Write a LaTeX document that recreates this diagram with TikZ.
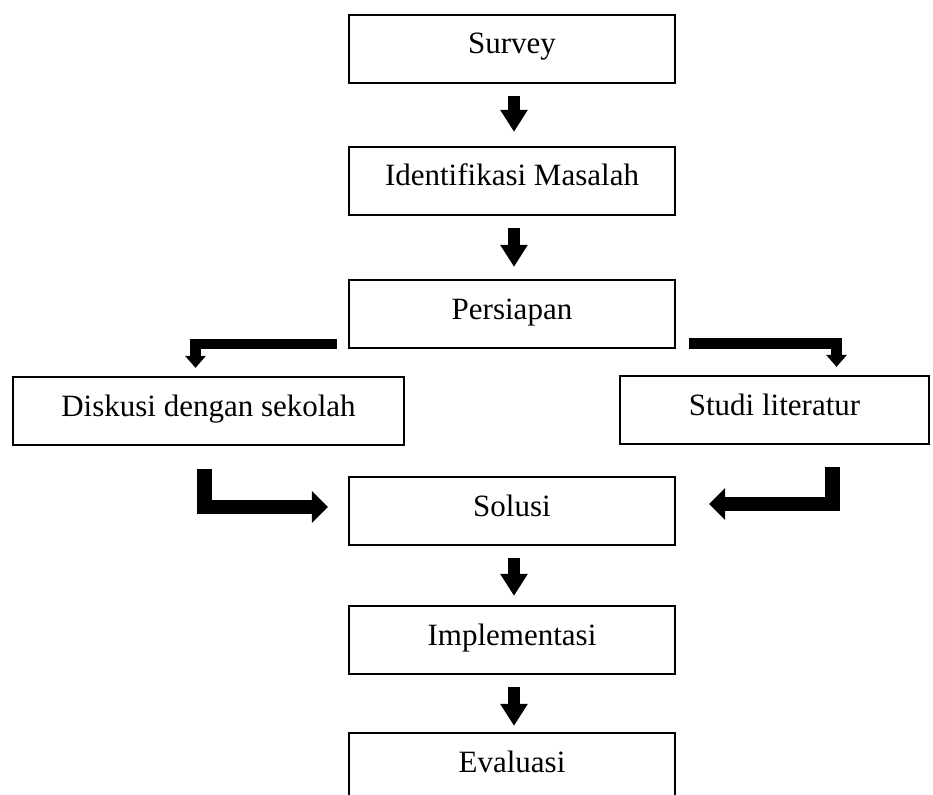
\documentclass[tikz,border=0pt]{standalone}
\usepackage{fontspec}
\setmainfont[Ligatures=NoCommon]{Liberation Serif}
\usetikzlibrary{arrows.meta,calc}
\begin{document}
\begin{tikzpicture}[x=1pt,y=-1pt,
  box/.style={draw,line width=2.2pt,inner sep=0pt,text height=22pt,text depth=12pt,
    font=\fontsize{31}{37}\selectfont},
  mainbox/.style={box,minimum width=326pt,minimum height=68pt},
  downarrow/.style={line width=12pt,-{Triangle[length=22pt,width=26pt]}},
  elbowthin/.style={line width=10.5pt,line join=miter,-{Triangle[length=12pt,width=20pt]}},
  elbowthick/.style={line width=14.5pt,line join=miter,-{Triangle[length=16pt,width=31pt]}}]
\clip (0,0) rectangle (933,794);
\node[mainbox] (survey) at (512,49) {Survey};
\node[mainbox] (ident) at (512,181) {Identifikasi Masalah};
\node[mainbox] (persiapan) at (512,314) {Persiapan};
\node[box,minimum width=391pt,minimum height=68pt] (diskusi) at (208.5,411) {Diskusi dengan sekolah};
\node[box,minimum width=309pt,minimum height=68pt] (studi) at (774.5,410) {Studi literatur};
\node[mainbox] (solusi) at (512,511) {Solusi};
\node[mainbox] (impl) at (512,640) {Implementasi};
\node[mainbox] (eval) at (512,767) {Evaluasi};

\draw[downarrow,shorten <=12pt,shorten >=14pt] ([xshift=2pt]survey.south) -- ([xshift=2pt]ident.north);
\draw[downarrow,shorten <=12pt,shorten >=12pt] ([xshift=2pt]ident.south) -- ([xshift=2pt]persiapan.north);
\draw[downarrow,shorten <=12pt,shorten >=9pt] ([xshift=2pt]solusi.south) -- ([xshift=2pt]impl.north);
\draw[downarrow,shorten <=12pt,shorten >=6pt] ([xshift=2pt]impl.south) -- ([xshift=2pt]eval.north);

\draw[elbowthin] ($(persiapan.south west)+(-11,-5)$) -| ($(diskusi.north)+(-13,-8)$);
\draw[elbowthin] ($(persiapan.south east)+(13,-5.5)$) -| ($(studi.north)+(62,-8)$);

\draw[elbowthick] ($(diskusi.south)+(-4,23)$) |- ($(solusi.west)+(-20,-4)$);
\draw[elbowthick] ($(studi.south)+(58,22)$) |- ($(solusi.east)+(33,-7)$);
\end{tikzpicture}
\end{document}
